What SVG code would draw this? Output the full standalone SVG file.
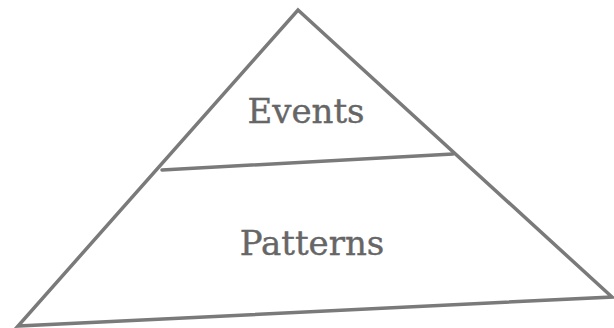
<svg xmlns="http://www.w3.org/2000/svg" width="614" height="328" viewBox="0 0 614 328">
<style>
.edge{fill:none;stroke:#7a7a7a;stroke-width:3.5;stroke-linecap:round;stroke-linejoin:miter}
.lbl{font-family:"DejaVu Serif","Liberation Serif",serif;font-size:34px;fill:#666666;stroke:#666666;stroke-width:0.4;text-anchor:middle}
</style>
<rect width="614" height="328" fill="#ffffff"/>
<g id="connectors">
<path class="edge" d="M298,10 L612,297 L18,326 Z"/>
<line class="edge" x1="162" y1="170" x2="453" y2="154"/>
</g>
<g id="events">
<text class="lbl" x="306" y="123">Events</text>
</g>
<g id="patterns">
<text class="lbl" x="312" y="255">Patterns</text>
</g>
</svg>
